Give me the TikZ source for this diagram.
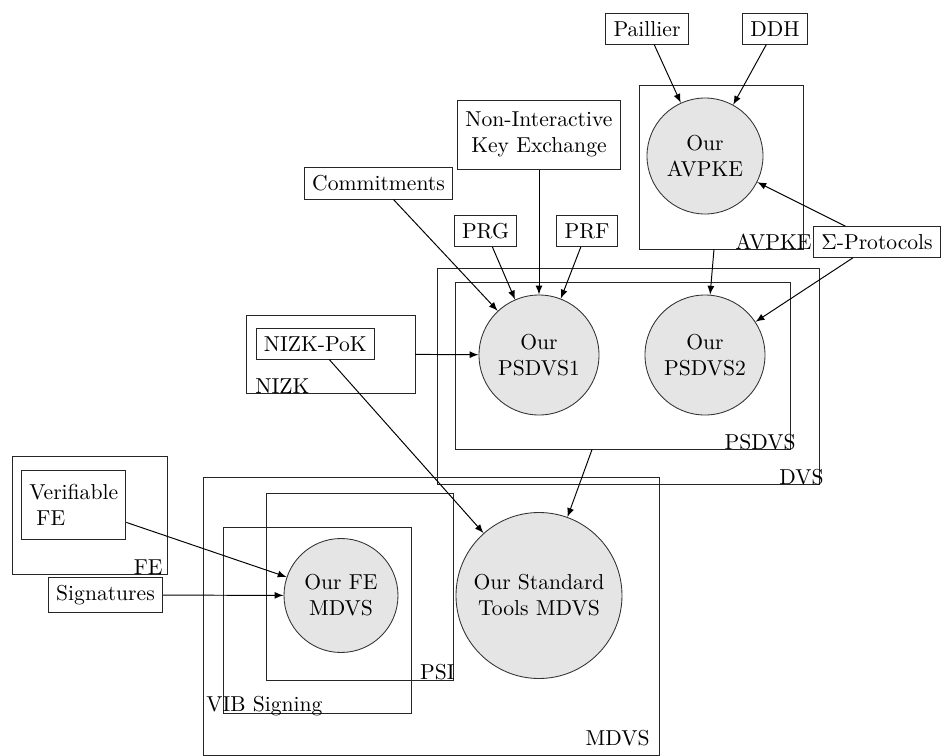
\documentclass[tikz,border=0pt]{standalone}
\newcommand\pxu{0.463pt}
\begin{document}
\begin{tikzpicture}[x=0.463pt,y=-0.463pt,
  cont/.style={draw=black!85, line width=0.4pt, inner sep=0pt},
  leaf/.style={draw=black!85, line width=0.4pt, inner sep=3.6pt, align=center},
  blob/.style={circle, draw=black!80, fill=black!10, line width=0.4pt, inner sep=1pt, align=center},
  lbl/.style={inner sep=0pt},
  arr/.style={-latex, line width=0.45pt}]
\useasboundingbox (0,0) rectangle (943,756);

% containers
\node[cont, minimum width=164*\pxu, minimum height=164*\pxu] (avpkebox) at (721,167) {};
\node[cont, minimum width=382*\pxu, minimum height=216*\pxu] (dvsbox) at (628,376) {};
\node[cont, minimum width=335*\pxu, minimum height=167*\pxu] (psdvsbox) at (622.5,365.5) {};
\node[cont, minimum width=169*\pxu, minimum height=78*\pxu] (nizkbox) at (330.5,354) {};
\node[cont, minimum width=155*\pxu, minimum height=118*\pxu] (febox) at (89.5,515) {};
\node[cont, minimum width=456*\pxu, minimum height=278*\pxu] (mdvsbox) at (431,616) {};
\node[cont, minimum width=187*\pxu, minimum height=187*\pxu] (psibox) at (359.5,586.5) {};
\node[cont, minimum width=188*\pxu, minimum height=186*\pxu] (vibbox) at (317,620) {};

% container labels
\node[lbl, anchor=base east] (lavpke) at (812,249) {AVPKE};
\node[lbl, anchor=base east] (lpsdvs) at (796,449) {PSDVS};
\node[lbl, anchor=base east] (ldvs) at (824,484) {DVS};
\node[lbl, anchor=base west] (lnizk) at (255,393) {NIZK};
\node[lbl, anchor=base east] (lfe) at (163,574) {FE};
\node[lbl, anchor=base east] (lpsi) at (455,679) {PSI};
\node[lbl, anchor=base west] (lvib) at (206,711) {VIB Signing};
\node[lbl, anchor=base east] (lmdvs) at (650,745) {MDVS};

% circles
\node[blob, minimum size=116*\pxu] (avpke) at (705,156) {Our\\AVPKE};
\node[blob, minimum size=120*\pxu] (psdvs1) at (539,355) {Our\\PSDVS1};
\node[blob, minimum size=120*\pxu] (psdvs2) at (705,355) {Our\\PSDVS2};
\node[blob, minimum size=114*\pxu] (femdvs) at (341,595.5) {Our FE\\MDVS};
\node[blob, minimum size=166*\pxu] (stdmdvs) at (539,595.5) {Our Standard\\Tools MDVS};

% leaf boxes
\node[leaf] (paillier) at (647,28.8) {Paillier};
\node[leaf] (ddh) at (775,28.8) {DDH};
\node[leaf, minimum height=69*\pxu] (nike) at (539,134.7) {Non-Interactive\\Key Exchange};
\node[leaf] (commit) at (378.5,183.5) {Commitments};
\node[leaf] (prg) at (485.5,231) {PRG};
\node[leaf] (prf) at (587,231) {PRF};
\node[leaf] (sigma) at (877,242) {$\Sigma$-Protocols};
\node[leaf] (nizkpok) at (315.3,343.8) {NIZK-PoK};
\node[leaf, align=left, minimum height=69*\pxu] (verfe) at (73.7,504.5) {Verifiable\\\ FE};
\node[leaf] (sigs) at (105.5,595) {Signatures};

% connectors
\draw[arr] (paillier) -- (avpke);
\draw[arr] (ddh) -- (avpke);
\draw[arr] (sigma) -- (avpke);
\draw[arr] (sigma) -- (psdvs2);
\draw[arr] (avpkebox) -- (psdvs2);
\draw[arr] (commit) -- (psdvs1);
\draw[arr] (prg) -- (psdvs1);
\draw[arr] (nike) -- (psdvs1);
\draw[arr] (prf) -- (psdvs1);
\draw[arr] (nizkbox) -- (psdvs1);
\draw[arr] (nizkpok) -- (stdmdvs);
\draw[arr] (psdvsbox) -- (stdmdvs);
\draw[arr] (verfe) -- (femdvs);
\draw[arr] (sigs) -- (femdvs);
\end{tikzpicture}
\end{document}
